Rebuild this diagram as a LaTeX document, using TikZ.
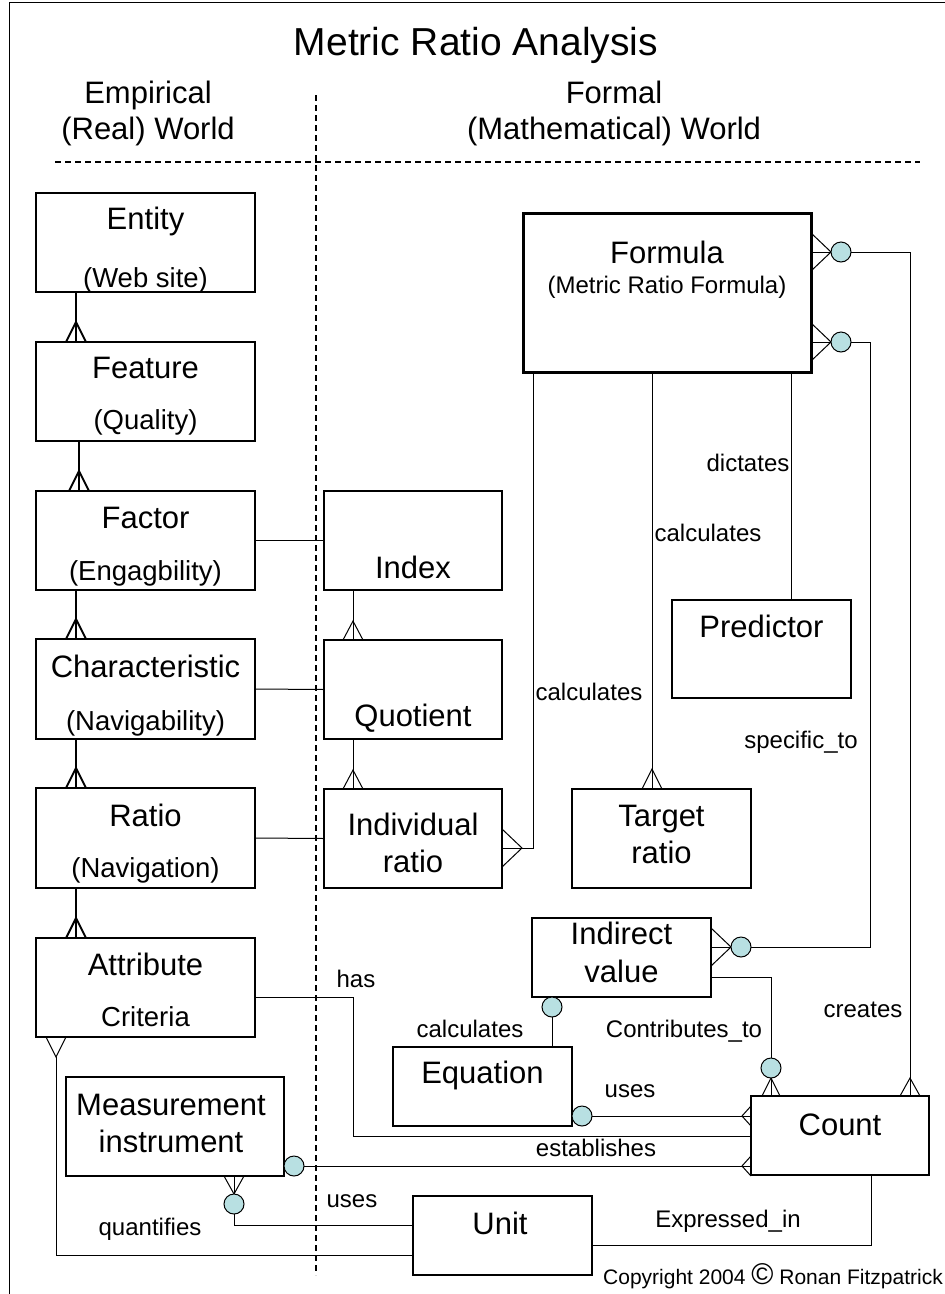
\documentclass[tikz,border=0pt]{standalone}
\usepackage{fontspec}
\setmainfont{Liberation Sans}
\usetikzlibrary{calc}
\definecolor{optfill}{RGB}{184,224,226}

% crow's foot: #2 = point on the box edge, #3 = apex offset, #4 = half spread of the legs
\newcommand{\crowfoot}[4][conn]{%
  \draw[#1] ($#2+#4$) -- ($#2+#3$) -- ($#2-#4$);}

\begin{document}
\begin{tikzpicture}[x=1pt,y=-1pt,
  box/.style={draw, line width=1.3pt, inner sep=0pt, outer sep=0pt, fill=white},
  conn/.style={line width=1pt},
  chain/.style={line width=2pt},
  divider/.style={line width=1.2pt, dash pattern=on 6pt off 4pt},
  opt/.style={draw, line width=1pt, fill=optfill, circle, minimum size=20pt, inner sep=0pt, outer sep=0pt},
  title/.style={font=\fontsize{39}{39}\selectfont, anchor=base, inner sep=0pt},
  head/.style={font=\fontsize{31}{31}\selectfont, anchor=base, inner sep=0pt},
  main/.style={font=\fontsize{31}{31}\selectfont, anchor=base, inner sep=0pt},
  sub/.style={font=\fontsize{27.5}{27.5}\selectfont, anchor=base, inner sep=0pt},
  rel/.style={font=\fontsize{24}{24}\selectfont, anchor=base, inner sep=0pt}]

\useasboundingbox (0,0) rectangle (945,1294);
\fill[white] (0,0) rectangle (945,1294);

% frame
\draw[line width=1pt] (9,1294) -- (9,2) -- (945,2);

% headings
\node[title] (ttl) at (476,55) {Metric Ratio Analysis};
\node[head] (emp1) at (148,103) {Empirical};
\node[head] (emp2) at (148,139) {(Real) World};
\node[head] (frm1) at (614,103) {Formal};
\node[head] (frm2) at (614,139) {(Mathematical) World};

% dividers between the two worlds
\draw[divider] (316,95) -- (316,1275);
\draw[divider] (55,162) -- (920,162);

% entity boxes
\node[box, minimum width=219pt, minimum height=99pt]  (entity)   at (145.5,242.5) {};
\node[box, minimum width=219pt, minimum height=99pt]  (feature)  at (145.5,391.5) {};
\node[box, minimum width=219pt, minimum height=99pt]  (factor)   at (145.5,540.5) {};
\node[box, minimum width=219pt, minimum height=100pt] (charac)   at (145.5,689) {};
\node[box, minimum width=219pt, minimum height=100pt] (ratio)    at (145.5,838) {};
\node[box, minimum width=219pt, minimum height=99pt]  (attrib)   at (145.5,987.5) {};
\node[box, minimum width=218pt, minimum height=99pt]  (measure)  at (175,1126.5) {};
\node[box, minimum width=178pt, minimum height=99pt]  (index)    at (413,540.5) {};
\node[box, minimum width=178pt, minimum height=99pt]  (quotient) at (413,689.5) {};
\node[box, minimum width=178pt, minimum height=99pt]  (indiv)    at (413,838.5) {};
\node[box, line width=3pt, minimum width=288pt, minimum height=159pt] (formula) at (667,292.5) {};
\node[box, minimum width=179pt, minimum height=98pt]  (predictor) at (761.5,649) {};
\node[box, minimum width=179pt, minimum height=99pt]  (target)   at (661.5,838.5) {};
\node[box, minimum width=179pt, minimum height=79pt]  (indirect) at (621.5,957.5) {};
\node[box, minimum width=179pt, minimum height=79pt]  (equation) at (482.5,1086.5) {};
\node[box, minimum width=178pt, minimum height=79pt]  (count)    at (840,1135.5) {};
\node[box, minimum width=179pt, minimum height=79pt]  (unit)     at (502.5,1235.5) {};

% box texts
\node[main] at (145.5,229) {Entity};
\node[sub]  at (145.5,287) {(Web site)};
\node[main] at (145.5,378) {Feature};
\node[sub]  at (145.5,429) {(Quality)};
\node[main] at (145.5,528) {Factor};
\node[sub]  at (145.5,580) {(Engagbility)};
\node[main] at (145.5,677) {Characteristic};
\node[sub]  at (145.5,730) {(Navigability)};
\node[main] at (145.5,826) {Ratio};
\node[sub]  at (145.5,877) {(Navigation)};
\node[main] at (145.5,975) {Attribute};
\node[sub]  at (145.5,1026) {Criteria};
\node[main] at (171,1115) {Measurement};
\node[main] at (171,1152) {instrument};
\node[main] at (413,578) {Index};
\node[main] at (413,726) {Quotient};
\node[main] at (413,835) {Individual};
\node[main] at (413,872) {ratio};
\node[main] at (667,263) {Formula};
\node[rel]  at (667,293) {(Metric Ratio Formula)};
\node[main] at (761.5,637) {Predictor};
\node[main] at (661.5,826) {Target};
\node[main] at (661.5,863) {ratio};
\node[main] at (621.5,944) {Indirect};
\node[main] at (621.5,982) {value};
\node[main] at (482.5,1083) {Equation};
\node[main] at (840,1135) {Count};
\node[main] at (500,1234) {Unit};

% ---- empirical chain
\coordinate (cx) at (76,0);
\coordinate (cxb) at (79,0);
\coordinate (e1) at (feature.north -| cx);
\coordinate (e2) at (factor.north -| cxb);
\coordinate (e3) at (charac.north -| cx);
\coordinate (e4) at (ratio.north -| cx);
\coordinate (e5) at (attrib.north -| cx);
\draw[chain] (entity.south -| cx) -- (e1);
\draw[chain] (feature.south -| cxb) -- (e2);
\draw[chain] (factor.south -| cx) -- (e3);
\draw[chain] (charac.south -| cx) -- (e4);
\draw[chain] (ratio.south -| cx) -- (e5);
\crowfoot[chain]{(e1)}{(0,-20)}{(10,0)}
\crowfoot[chain]{(e2)}{(0,-20)}{(10,0)}
\crowfoot[chain]{(e3)}{(0,-20)}{(10,0)}
\crowfoot[chain]{(e4)}{(0,-20)}{(10,0)}
\crowfoot[chain]{(e5)}{(0,-20)}{(10,0)}

% ---- empirical to formal
\draw[conn] (factor.east) -- (index.west);
\draw[conn] (charac.east) -- (quotient.west);
\draw[conn] (ratio.east) -- (indiv.west);

% ---- formal chain
\coordinate (qx) at (353,0);
\coordinate (q1) at (quotient.north -| qx);
\coordinate (q2) at (indiv.north -| qx);
\draw[conn] (index.south -| qx) -- (q1);
\draw[conn] (quotient.south -| qx) -- (q2);
\crowfoot{(q1)}{(0,-19)}{(10,0)}
\crowfoot{(q2)}{(0,-19)}{(10,0)}

% ---- Formula relationships
\coordinate (fl) at (533,0);
\coordinate (iy) at (0,848);
\coordinate (i1) at (indiv.east |- iy);
\draw[conn] (formula.south -| fl) |- ($(i1)+(20,0)$) -- (i1);
\crowfoot{(i1)}{(20,0)}{(0,19)}
\node[rel] at (589,700) {calculates};

\coordinate (tx) at (652,0);
\coordinate (t1) at (target.north -| tx);
\draw[conn] (formula.south -| tx) -- (t1);
\crowfoot{(t1)}{(0,-20)}{(10,0)}
\node[rel] at (708,541) {calculates};

\coordinate (px) at (791,0);
\draw[conn] (formula.south -| px) -- (predictor.north -| px);
\node[rel] at (748,471) {dictates};

% Formula creates Count
\coordinate (u1) at (formula.east |- 0,252);
\crowfoot{(u1)}{(20,0)}{(0,19)}
\draw[conn] (u1) -- ($(u1)+(20,0)$);
\node[opt, anchor=west] (o1) at ($(u1)+(20,0)$) {};
\coordinate (cr) at (910,0);
\coordinate (c1) at (count.north -| cr);
\draw[conn] (o1.east) -| (c1);
\crowfoot{(c1)}{(0,-18)}{(10,0)}
\node[rel] at (863,1017) {creates};

% Formula specific_to Indirect value
\coordinate (u2) at (formula.east |- 0,342);
\crowfoot{(u2)}{(20,0)}{(0,19)}
\draw[conn] (u2) -- ($(u2)+(20,0)$);
\node[opt, anchor=west] (o2) at ($(u2)+(20,0)$) {};
\coordinate (v1) at (indirect.east |- 0,947);
\crowfoot{(v1)}{(20,0)}{(0,19)}
\draw[conn] (v1) -- ($(v1)+(20,0)$);
\node[opt, anchor=west] (o3) at ($(v1)+(20,0)$) {};
\coordinate (sx) at (870,0);
\draw[conn] (o2.east) -| (sx |- o3.east) -- (o3.east);
\node[rel] at (801,748) {specific\_to};

% Indirect value contributes to Count
\coordinate (c2) at (count.north -| 771,0);
\crowfoot{(c2)}{(0,-18)}{(9,0)}
\draw[conn] (c2) -- ($(c2)+(0,-18)$);
\node[opt, anchor=south] (o4) at ($(c2)+(0,-18)$) {};
\draw[conn] (indirect.east |- 0,977) -| (o4.north);
\node[rel] at (684,1037) {Contributes\_to};

% Equation calculates Indirect value
\node[opt, anchor=north] (o5) at (indirect.south -| 552,0) {};
\draw[conn] (o5.south) -- (equation.north -| o5);
\node[rel] at (470,1037) {calculates};

% Equation uses Count
\node[opt, anchor=west] (o6) at (equation.east |- 0,1116) {};
\coordinate (c3) at (count.west |- o6);
\draw[conn] (o6.east) -- (c3);
\crowfoot{(c3)}{(-9,0)}{(0,10)}
\node[rel] at (630,1097) {uses};

% Attribute has Count
\coordinate (hx) at (353,0);
\draw[conn] (attrib.east |- 0,997) -| (hx |- 0,1136) -- (count.west |- 0,1136);
\node[rel] at (356,987) {has};

% Measurement instrument establishes Count
\node[opt, anchor=west] (o7) at (measure.east |- 0,1166) {};
\coordinate (c4) at (count.west |- o7);
\draw[conn] (o7.east) -- (c4);
\crowfoot{(c4)}{(-9,0)}{(0,10)}
\node[rel] at (596,1156) {establishes};

% Measurement instrument uses Unit
\coordinate (m1) at (measure.south -| 234,0);
\crowfoot{(m1)}{(0,18)}{(10,0)}
\draw[conn] (m1) -- ($(m1)+(0,18)$);
\node[opt, anchor=north] (o8) at ($(m1)+(0,18)$) {};
\draw[conn] (o8.south) |- (unit.west |- 0,1225);
\node[rel] at (352,1207) {uses};

% Attribute quantified via Unit
\coordinate (a1) at (attrib.south -| 56,0);
\crowfoot{(a1)}{(0,20)}{(10,0)}
\draw[conn] ($(a1)+(0,20)$) |- (unit.west |- 0,1255);
\node[rel] at (150,1235) {quantifies};

% Count expressed in Unit
\draw[conn] (count.south -| 871,0) |- (unit.east |- 0,1245);
\node[rel] at (728,1227) {Expressed\_in};

% copyright line
\node[anchor=base east, inner sep=0pt, font=\fontsize{21}{21}\selectfont] (copy) at (943,1284)
  {Copyright 2004 {\fontsize{30}{30}\selectfont ©} Ronan Fitzpatrick};

\end{tikzpicture}
\end{document}
